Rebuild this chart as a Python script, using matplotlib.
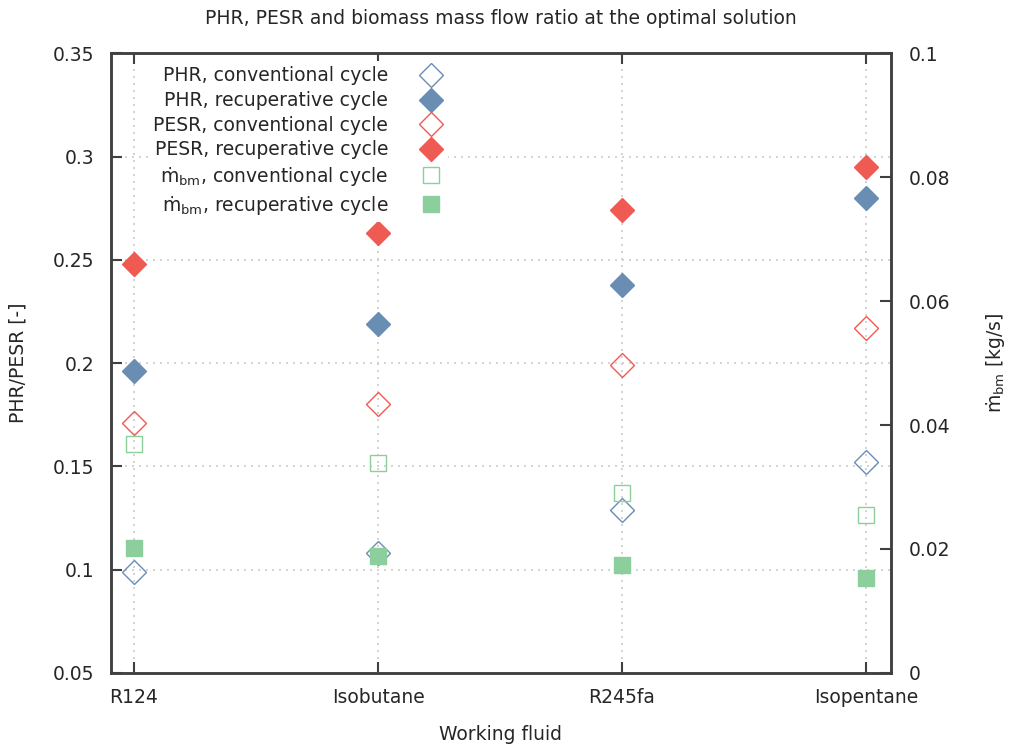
import matplotlib
matplotlib.use("Agg")
import matplotlib.pyplot as plt
from matplotlib.ticker import FormatStrFormatter, MultipleLocator

# ---- data ----
fluids = ["R124", "Isobutane", "R245fa", "Isopentane"]
phr_conv = [0.099, 0.108, 0.129, 0.152]
phr_recup = [0.196, 0.219, 0.238, 0.280]
pesr_conv = [0.171, 0.180, 0.199, 0.217]
pesr_recup = [0.248, 0.263, 0.274, 0.295]
mbm_conv = [0.0369, 0.0339, 0.0290, 0.0255]
mbm_recup = [0.0202, 0.0188, 0.0174, 0.0153]

blue = "#6a8db3"
red = "#ef5a52"
green = "#8ccf9c"
frame = "#404040"
txt = "#262626"
fs = 13.5

plt.rcParams["font.family"] = "DejaVu Sans"
plt.rcParams["mathtext.fontset"] = "dejavusans"
plt.rcParams["text.color"] = txt
plt.rcParams["axes.labelcolor"] = txt
plt.rcParams["xtick.labelcolor"] = txt
plt.rcParams["ytick.labelcolor"] = txt

fig = plt.figure(figsize=(10.10, 7.51), dpi=100)
ax1 = fig.add_axes([0.110, 0.104, 0.772, 0.825])
ax2 = ax1.twinx()

x = list(range(len(fluids)))
ms_d = 12.5
ms_s = 11.5

h1, = ax1.plot(x, phr_conv, "D", ls="none", ms=ms_d, mfc="none", mec=blue, mew=1.0,
               label="PHR, conventional cycle")
h2, = ax1.plot(x, phr_recup, "D", ls="none", ms=ms_d, mfc=blue, mec=blue,
               label="PHR, recuperative cycle")
h3, = ax1.plot(x, pesr_conv, "D", ls="none", ms=ms_d, mfc="none", mec=red, mew=1.0,
               label="PESR, conventional cycle")
h4, = ax1.plot(x, pesr_recup, "D", ls="none", ms=ms_d, mfc=red, mec=red,
               label="PESR, recuperative cycle")
h5, = ax2.plot(x, mbm_conv, "s", ls="none", ms=ms_s, mfc="none", mec=green, mew=1.0,
               label="ṁ$_\\mathrm{bm}$, conventional cycle")
h6, = ax2.plot(x, mbm_recup, "s", ls="none", ms=ms_s, mfc=green, mec=green,
               label="ṁ$_\\mathrm{bm}$, recuperative cycle")

ax1.set_xlim(-0.094, 3.102)
ax1.set_ylim(0.05, 0.35)
ax2.set_ylim(0, 0.1)
ax1.set_xticks(x)
ax1.set_xticklabels(fluids)
ax1.yaxis.set_major_locator(MultipleLocator(0.05))
ax2.yaxis.set_major_locator(MultipleLocator(0.02))
ax1.yaxis.set_major_formatter(FormatStrFormatter("%g"))
ax2.yaxis.set_major_formatter(FormatStrFormatter("%g"))

ax1.grid(True, color="#cccccc", linestyle=(0, (1.2, 3)), linewidth=1.2)
ax1.set_axisbelow(True)

ax1.tick_params(axis="y", direction="in", length=8, width=1.5, color=frame,
                labelsize=fs, pad=12)
ax1.tick_params(axis="x", direction="in", length=8, width=1.5, color=frame,
                labelsize=fs, pad=11, top=True)
ax2.tick_params(axis="y", direction="in", length=8, width=1.5, color=frame,
                labelsize=fs, pad=13)
for ax in (ax1, ax2):
    for s in ax.spines.values():
        s.set_color(frame)
        s.set_linewidth(1.8)

ax1.set_xlabel("Working fluid", fontsize=fs, labelpad=13)
ax1.set_ylabel("PHR/PESR [-]", fontsize=fs, labelpad=18)
ax2.set_ylabel("ṁ$_\\mathrm{bm}$ [kg/s]", fontsize=fs, labelpad=24)
ax1.set_title("PHR, PESR and biomass mass flow ratio at the optimal solution",
              fontsize=fs, pad=21)

leg = ax2.legend(handles=[h1, h2, h3, h4, h5, h6], loc="upper left",
                 bbox_to_anchor=(0.035, 1.003), markerfirst=False, fontsize=fs,
                 frameon=True, framealpha=1.0, facecolor="white", edgecolor="none",
                 fancybox=False, handlelength=1.2, handletextpad=1.7,
                 labelspacing=0.3, borderpad=0.3)
for t in leg.get_texts():
    t.set_ha("right")
leg._legend_box.align = "right"

fig.savefig("out.png", dpi=100)
